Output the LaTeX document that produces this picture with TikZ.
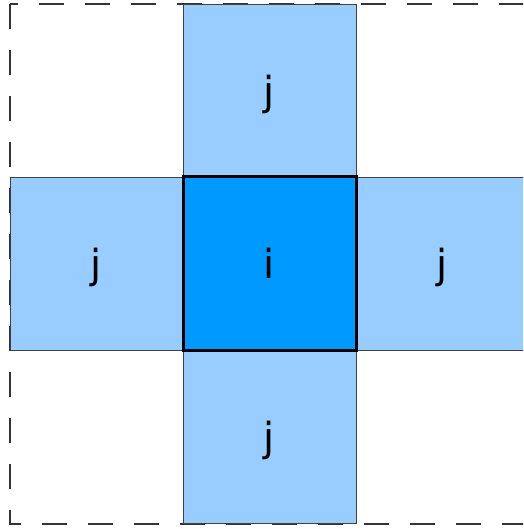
\documentclass[tikz,border=0pt]{standalone}
\usepackage{fontspec}
\setmainfont{DejaVu Sans}
\usepackage{tikz}
\usetikzlibrary{
    positioning
}
\definecolor{vecino}{HTML}{99CCFF}
\definecolor{central}{HTML}{0099FF}
\tikzset{
    celda/.style={
        rectangle,
        minimum size=173pt,
        inner sep=0pt,
        text height=30pt,
        text depth=0pt,
        font=\fontsize{40}{46}\selectfont
    },
    vecina/.style={
        celda,
        fill=vecino,
        draw=black!75,
        line width=0.8pt
    },
    propia/.style={
        celda,
        fill=central,
        draw=black,
        line width=3pt
    }
}

\begin{document}
\begin{tikzpicture}[
    x=1pt,
    y=-1pt
]

    \useasboundingbox (0,0) rectangle (523,529);
    \clip (0,0) rectangle (523,529);

    % Borde exterior discontinuo
    \draw[black!80, line width=1.4pt, dash pattern=on 25pt off 21pt]
        (10,4) rectangle (529,524);

    % Vecinas j
    \node[vecina] (arriba)    at (269.5,90.5)  {j};
    \node[vecina] (izquierda) at (96.5,263.5)  {j};
    \node[vecina] (derecha)   at (442.5,263.5) {j};
    \node[vecina] (abajo)     at (269.5,436.5) {j};

    % Celda i
    \node[propia] (i) at (269.5,263.5) {i};

\end{tikzpicture}
\end{document}
